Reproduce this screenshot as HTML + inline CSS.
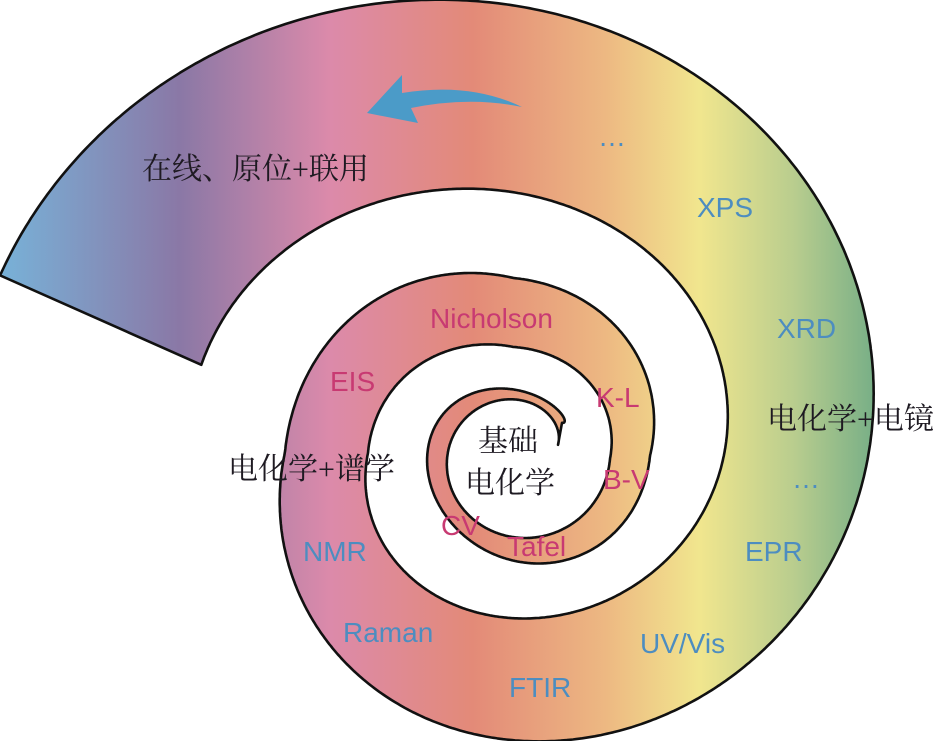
<!DOCTYPE html>
<html><head><meta charset="utf-8">
<style>
html,body{margin:0;padding:0;background:#fff;}
svg{display:block;}
.cn{font-family:"Liberation Serif","Noto Serif CJK SC",serif;font-size:30px;fill:#1e1a22;}
.bl{font-family:"Liberation Sans",sans-serif;font-size:28px;fill:#4d8dc0;}
.mg{font-family:"Liberation Sans",sans-serif;font-size:28px;fill:#c83a72;}
</style></head>
<body>
<svg id="s" width="945" height="741" viewBox="0 0 945 741" xmlns="http://www.w3.org/2000/svg">
<defs>
<linearGradient id="g" gradientUnits="userSpaceOnUse" x1="0" y1="0" x2="945" y2="0">
<stop offset="0" stop-color="#78b2d8"/>
<stop offset="0.19" stop-color="#8a78a6"/>
<stop offset="0.35" stop-color="#dc8aaa"/>
<stop offset="0.5" stop-color="#e38a78"/>
<stop offset="0.64" stop-color="#edb882"/>
<stop offset="0.74" stop-color="#f1e68e"/>
<stop offset="0.84" stop-color="#b9cd8e"/>
<stop offset="0.93" stop-color="#74ad86"/>
</linearGradient>
</defs>
<path id="sp" fill="url(#g)" stroke="#111" stroke-width="2.6" stroke-linejoin="round" d=""/>
<path d="M367,113 L402,75 L402,93 Q470,82 522,107 Q470,96 411,108 L418,123 Z" fill="#4b9bc8"/>
<text class="cn" x="142" y="179">在线、原位+联用</text>
<text class="cn" x="767" y="429">电化学+电镜</text>
<text class="cn" x="228" y="479">电化学+谱学</text>
<text class="cn" x="478" y="451">基础</text>
<text class="cn" x="465" y="493">电化学</text>
<text class="bl" x="598" y="146">…</text>
<text class="bl" x="697" y="217">XPS</text>
<text class="bl" x="777" y="338">XRD</text>
<text class="bl" x="792" y="488">…</text>
<text class="bl" x="745" y="561">EPR</text>
<text class="bl" x="640" y="653">UV/Vis</text>
<text class="bl" x="509" y="697">FTIR</text>
<text class="bl" x="343" y="642">Raman</text>
<text class="bl" x="303" y="561">NMR</text>
<text class="mg" x="430" y="328">Nicholson</text>
<text class="mg" x="330" y="391">EIS</text>
<text class="mg" x="596" y="407">K-L</text>
<text class="mg" x="603" y="489">B-V</text>
<text class="mg" x="441" y="535">CV</text>
<text class="mg" x="507" y="556">Tafel</text>
</svg>
<script>
var PI=Math.PI;
function itp(v,t0,t){var k=(t-t0)/(2*PI);var i=Math.floor(k);if(i<0)i=0;if(i>v.length-2)i=v.length-2;var f=k-i;return v[i]+(v[i+1]-v[i])*f;}
function pt(S,t){var xr=itp(S.R,0,t),xl=itp(S.L,PI,t),yt=itp(S.T,PI/2,t),yb=itp(S.B,1.5*PI,t);
return [(xr+xl)/2+(xr-xl)/2*Math.cos(t),(yt+yb)/2-(yb-yt)/2*Math.sin(t)];}
var A=[3,277],Bp=[210,370];
function side(p){return (Bp[0]-A[0])*(p[1]-A[1])-(Bp[1]-A[1])*(p[0]-A[0]);}
function curve(S){var P=[];for(var t=0;t<5.6*PI;t+=0.01){var p=pt(S,t);if(t>4*PI&&side(p)>0)break;P.push(p);}return P;}
var O=curve({R:[562,650,872],L:[430,285,-35],T:[392,278,2],B:[560,740]});
var I=curve({R:[558,610,727],L:[448,368,190],T:[400,347,190],B:[537,618]});
var d="M"+O.map(function(p){return p[0].toFixed(1)+","+p[1].toFixed(1);}).join(" L");
I.reverse();
d+=" L"+I.map(function(p){return p[0].toFixed(1)+","+p[1].toFixed(1);}).join(" L")+" Z";
document.getElementById("sp").setAttribute("d",d);
</script>
</body></html>
